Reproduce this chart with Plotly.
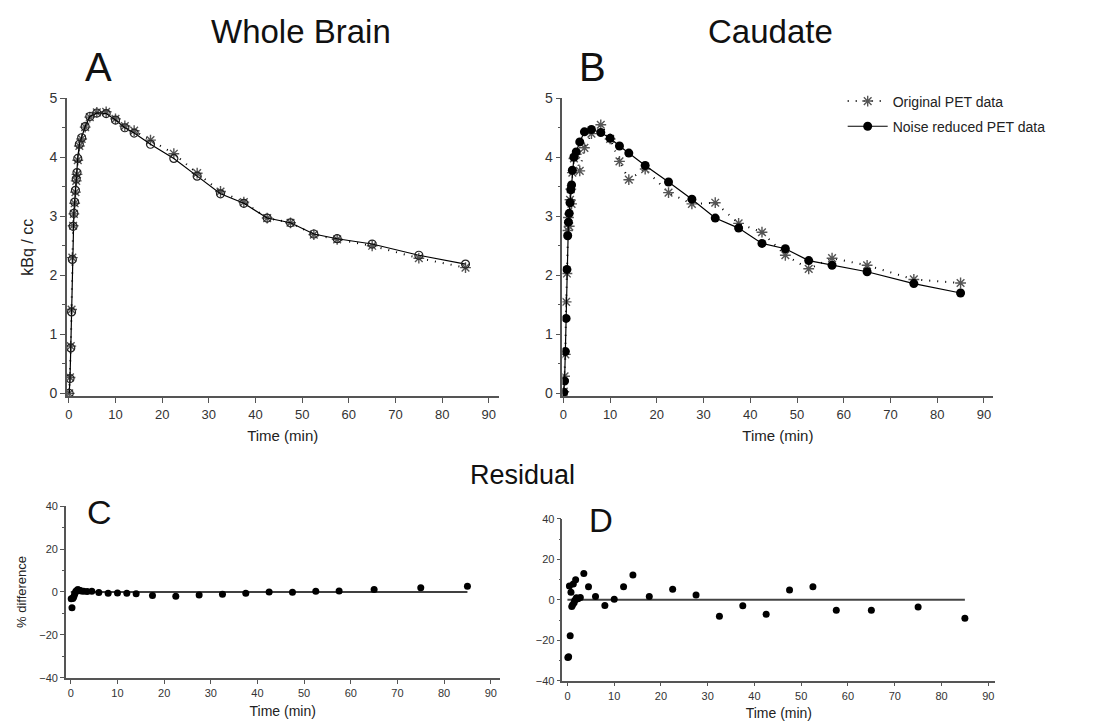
import plotly.graph_objects as go

# ---------------- data ----------------
time_min = [0.083, 0.25, 0.417, 0.583, 0.75, 0.917, 1.083, 1.25, 1.417, 1.583, 1.75, 1.917,
            2.25, 2.75, 3.5, 4.5, 6, 8, 10, 12, 14, 17.5, 22.5, 27.5, 32.5, 37.5, 42.5,
            47.5, 52.5, 57.5, 65, 75, 85]

wb_noise_reduced = [0.0, 0.25, 0.77, 1.38, 2.27, 2.83, 3.05, 3.24, 3.44, 3.63, 3.74, 3.98,
                    4.22, 4.33, 4.52, 4.69, 4.75, 4.74, 4.63, 4.50, 4.41, 4.22, 3.98, 3.68,
                    3.38, 3.22, 2.97, 2.89, 2.70, 2.62, 2.53, 2.34, 2.19]
wb_original = [0.0, 0.27, 0.80, 1.42, 2.30, 2.84, 3.04, 3.22, 3.41, 3.60, 3.71, 3.95,
               4.19, 4.31, 4.51, 4.68, 4.76, 4.77, 4.65, 4.53, 4.45, 4.29, 4.06, 3.73,
               3.42, 3.24, 2.97, 2.89, 2.69, 2.61, 2.50, 2.29, 2.13]

cd_noise_reduced = [0.02, 0.21, 0.71, 1.27, 2.10, 2.67, 2.90, 3.05, 3.23, 3.45, 3.53, 3.78,
                    4.00, 4.09, 4.26, 4.43, 4.47, 4.42, 4.32, 4.19, 4.07, 3.86, 3.58, 3.29,
                    2.97, 2.80, 2.54, 2.45, 2.25, 2.17, 2.06, 1.86, 1.70]
cd_original = [0.03, 0.29, 0.66, 1.55, 2.03, 2.76, 2.98, 2.83, 3.28, 3.46, 3.21, 3.74,
               3.98, 4.05, 3.77, 4.16, 4.40, 4.55, 4.31, 3.93, 3.62, 3.80, 3.40, 3.21,
               3.23, 2.88, 2.73, 2.34, 2.11, 2.29, 2.17, 1.93, 1.87]

wb_residual = [-3.2, -7.4, -3.0, -2.5, -1.5, -0.5, 0.3, 0.5, 1.0, 1.0, 0.8, 0.7,
               0.5, 0.3, 0.2, 0.3, -0.3, -0.6, -0.5, -0.6, -0.8, -1.7, -2.0, -1.4,
               -1.1, -0.6, 0.0, -0.15, 0.3, 0.5, 1.1, 2.0, 2.7]
cd_residual = [-28.5, -28.2, 6.8, -17.8, 3.7, -3.3, -2.6, 7.8, -1.5, -0.2, 9.9, 1.0,
               0.5, 1.1, 13.0, 6.5, 1.6, -2.8, 0.3, 6.5, 12.3, 1.6, 5.2, 2.4,
               -8.1, -2.9, -7.1, 4.9, 6.5, -5.2, -5.2, -3.6, -9.1]

zero_line_x = [0, 85]
zero_line_y = [0, 0]

# ---------------- layout helpers ----------------
W, H = 1093, 723
FONT = "Arial, Liberation Sans, sans-serif"


def px_x(p):
    return p / W


def px_y(p):
    return 1 - p / H


fig = go.Figure()

orig_line = dict(color="black", width=2, dash="1px,7px")
star = dict(symbol="asterisk-open", size=9, color="#555", line=dict(color="#555", width=1.4))

# Panel A
fig.add_trace(go.Scatter(x=time_min, y=wb_original, mode="lines+markers", line=orig_line,
                         marker=star, xaxis="x", yaxis="y", showlegend=False))
fig.add_trace(go.Scatter(x=time_min, y=wb_noise_reduced, mode="lines+markers",
                         line=dict(color="black", width=1.2),
                         marker=dict(symbol="circle-open", size=8, color="#222",
                                     line=dict(color="#222", width=1.2)),
                         xaxis="x", yaxis="y", showlegend=False))
# Panel B
fig.add_trace(go.Scatter(x=time_min, y=cd_original, mode="lines+markers", line=orig_line,
                         marker=star, xaxis="x2", yaxis="y2", name="Original PET data",
                         legendgroup="g1"))
fig.add_trace(go.Scatter(x=time_min, y=cd_noise_reduced, mode="lines+markers",
                         line=dict(color="black", width=1.2),
                         marker=dict(symbol="circle", size=9, color="black"),
                         xaxis="x2", yaxis="y2", name="Noise reduced PET data",
                         legendgroup="g2"))
# Panel C
fig.add_trace(go.Scatter(x=zero_line_x, y=zero_line_y, mode="lines",
                         line=dict(color="black", width=1.5), xaxis="x3", yaxis="y3",
                         showlegend=False))
fig.add_trace(go.Scatter(x=time_min, y=wb_residual, mode="markers",
                         marker=dict(symbol="circle", size=7, color="black"),
                         xaxis="x3", yaxis="y3", showlegend=False))
# Panel D
fig.add_trace(go.Scatter(x=zero_line_x, y=zero_line_y, mode="lines",
                         line=dict(color="#444", width=2), xaxis="x4", yaxis="y4",
                         showlegend=False))
fig.add_trace(go.Scatter(x=time_min, y=cd_residual, mode="markers",
                         marker=dict(symbol="circle", size=7, color="black"),
                         xaxis="x4", yaxis="y4", showlegend=False))

axis_common = dict(showgrid=False, zeroline=False, showline=True, linecolor="#555",
                   linewidth=1.5, ticks="outside", tickcolor="#555", tickwidth=1.2,
                   color="#333", fixedrange=True)


def xax(dom, rng, anchor, fsize, tlen, title_size, standoff):
    return dict(axis_common, domain=[px_x(dom[0]), px_x(dom[1])], range=rng, anchor=anchor,
                tick0=0, dtick=10, ticklen=tlen, tickfont=dict(size=fsize, family=FONT, color="#333"),
                title=dict(text="Time (min)", font=dict(size=title_size, family=FONT, color="#222"),
                           standoff=standoff))


def yax(dom, rng, anchor, dtick, minor_dtick, fsize, tlen, title=None, title_size=14, standoff=10):
    d = dict(axis_common, domain=[px_y(dom[1]), px_y(dom[0])], range=rng, anchor=anchor,
             tick0=0, dtick=dtick, ticklen=tlen,
             tickfont=dict(size=fsize, family=FONT, color="#333"),
             minor=dict(dtick=minor_dtick, tick0=0, ticks="outside", ticklen=max(2, tlen - 2),
                        tickcolor="#555", tickwidth=1))
    if title:
        d["title"] = dict(text=title, font=dict(size=title_size, family=FONT, color="#222"),
                          standoff=standoff)
    return d


fig.update_layout(
    width=W, height=H,
    margin=dict(l=0, r=0, t=0, b=0),
    paper_bgcolor="white", plot_bgcolor="white",
    font=dict(family=FONT, color="#222"),
    xaxis=xax((64, 497), [-0.43, 92.1], "y", 13, 5, 15, 10),
    yaxis=yax((92, 396), [-0.05, 5.0], "x", 1, 0.5, 14, 5, "kBq / cc", 16, 12),
    xaxis2=xax((561, 993), [-0.2, 92.0], "y2", 13, 5, 15, 10),
    yaxis2=yax((92, 396), [-0.05, 5.0], "x2", 1, 0.5, 14, 5),
    xaxis3=xax((63, 498), [-1.07, 91.9], "y3", 11, 4, 14, 8),
    yaxis3=yax((508, 683), [-40, 40], "x3", 20, 10, 11, 4, "% difference", 13, 10),
    xaxis4=xax((561, 995), [-1.07, 91.5], "y4", 11, 4, 14, 8),
    yaxis4=yax((521, 686), [-40, 40], "x4", 20, 10, 11, 4),
    legend=dict(x=px_x(842), y=px_y(79), xanchor="left", yanchor="top",
                font=dict(size=14, family=FONT, color="#222"), bgcolor="rgba(0,0,0,0)",
                traceorder="grouped", tracegroupgap=4, itemwidth=40),
    showlegend=True,
)

labels = [
    ("Whole Brain", 299, 24, 33),
    ("Caudate", 770, 24, 33),
    ("A", 96, 60, 40),
    ("B", 591, 60, 40),
    ("Residual", 521, 476, 27),
    ("C", 97, 514, 34),
    ("D", 600, 523, 33),
]
for text, x, y, size in labels:
    fig.add_annotation(text=text, x=px_x(x), y=px_y(y), xref="paper", yref="paper",
                       xanchor="center", yanchor="middle", showarrow=False,
                       font=dict(size=size, family=FONT, color="#111"))

fig.write_html("out.html", config={"displayModeBar": False},
               post_script="document.body.style.margin='0';")
